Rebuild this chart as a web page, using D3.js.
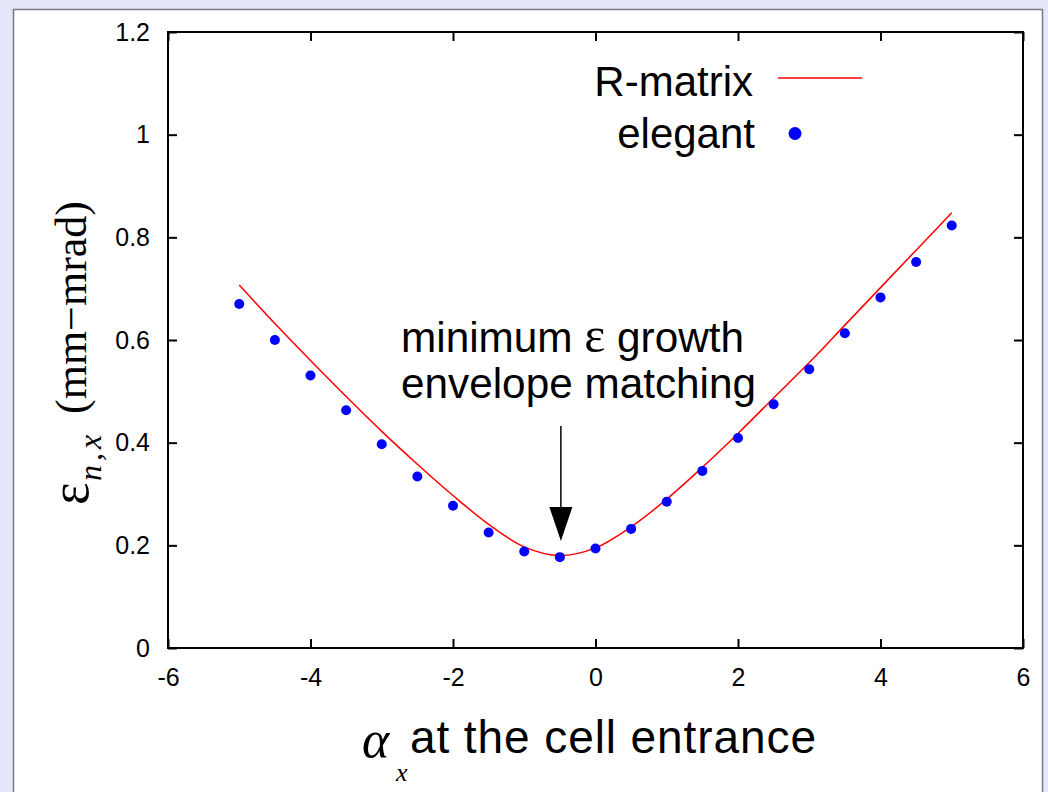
<!DOCTYPE html>
<html>
<head>
<meta charset="utf-8">
<script src="https://cdn.jsdelivr.net/npm/d3@7"></script>
<style>
  html, body { margin: 0; padding: 0; background: #e6e6fa; }
  svg { display: block; }
  .tick text { font-family: "Liberation Sans", Arial, sans-serif; font-size: 25px; fill: #000; }
  .tick line { stroke: #000; stroke-width: 2; }
</style>
</head>
<body>
<svg id="chart" width="1048" height="792"></svg>
<script>
// Twiss alpha at the cell entrance
const alphaValues = [-5, -4.5, -4, -3.5, -3, -2.5, -2, -1.5, -1, -0.5, 0, 0.5, 1, 1.5, 2, 2.5, 3, 3.5, 4, 4.5, 5];
// normalized emittance from the R-matrix calculation (mm-mrad)
const rMatrixValues = [0.707, 0.632, 0.560, 0.490, 0.422, 0.358, 0.297, 0.241, 0.197, 0.180, 0.195, 0.236, 0.290, 0.352, 0.418, 0.487, 0.556, 0.629, 0.702, 0.775, 0.848];
// normalized emittance from elegant tracking (mm-mrad)
const elegantValues = [0.670, 0.600, 0.531, 0.463, 0.397, 0.334, 0.277, 0.225, 0.188, 0.177, 0.194, 0.232, 0.285, 0.345, 0.409, 0.475, 0.543, 0.613, 0.683, 0.752, 0.823];
const xTicks = [-6, -4, -2, 0, 2, 4, 6];
const yTicks = [0, 0.2, 0.4, 0.6, 0.8, 1, 1.2];
const legendLabels = ["R-matrix", "elegant"];
const annotationAlpha = -0.5;

const svg = d3.select("#chart");
const sans = '"Liberation Sans", Arial, sans-serif';
const serif = '"Liberation Serif", "Times New Roman", serif';
const plain = d => String(d);

// page panel
svg.append("rect").attr("x", 0).attr("y", 0).attr("width", 1048).attr("height", 792).attr("fill", "#e6e6fa");
svg.append("rect").attr("x", 13.5).attr("y", 9.5).attr("width", 1029).attr("height", 800)
  .attr("fill", "#fff").attr("stroke", "#7a7a86").attr("stroke-width", 1.5);

const plotLeft = 168, plotRight = 1023, plotTop = 32, plotBottom = 648;
const x = d3.scaleLinear().domain([-6, 6]).range([plotLeft, plotRight]);
const y = d3.scaleLinear().domain([0, 1.2]).range([plotBottom, plotTop]);

// axes with inward ticks, mirrored on top and right
svg.append("g").attr("transform", `translate(0,${plotBottom})`)
  .call(d3.axisBottom(x).tickValues(xTicks).tickFormat(plain).tickSizeInner(-9).tickSizeOuter(0).tickPadding(20))
  .call(g => g.select(".domain").remove());
svg.append("g").attr("transform", `translate(${plotLeft},0)`)
  .call(d3.axisLeft(y).tickValues(yTicks).tickFormat(plain).tickSizeInner(-9).tickSizeOuter(0).tickPadding(18))
  .call(g => g.select(".domain").remove());
svg.append("g").attr("transform", `translate(0,${plotTop})`)
  .call(d3.axisTop(x).tickValues(xTicks).tickFormat("").tickSizeInner(-9).tickSizeOuter(0))
  .call(g => g.select(".domain").remove());
svg.append("g").attr("transform", `translate(${plotRight},0)`)
  .call(d3.axisRight(y).tickValues(yTicks).tickFormat("").tickSizeInner(-9).tickSizeOuter(0))
  .call(g => g.select(".domain").remove());

svg.append("rect").attr("x", plotLeft).attr("y", plotTop)
  .attr("width", plotRight - plotLeft).attr("height", plotBottom - plotTop)
  .attr("fill", "none").attr("stroke", "#000").attr("stroke-width", 2);

// R-matrix curve
const rData = alphaValues.map((a, i) => [a, rMatrixValues[i]]);
svg.append("path").datum(rData)
  .attr("fill", "none").attr("stroke", "#ff0000").attr("stroke-width", 1.5)
  .attr("d", d3.line().x(d => x(d[0])).y(d => y(d[1])).curve(d3.curveCatmullRom));

// elegant points
svg.append("g").selectAll("circle").data(alphaValues.map((a, i) => [a, elegantValues[i]]))
  .join("circle").attr("cx", d => x(d[0])).attr("cy", d => y(d[1])).attr("r", 5).attr("fill", "#0000ff");

// legend
svg.append("text").attr("x", 753).attr("y", 96).attr("text-anchor", "end")
  .attr("font-family", sans).attr("font-size", 42).text(legendLabels[0]);
svg.append("line").attr("x1", 778).attr("x2", 862).attr("y1", 78).attr("y2", 78)
  .attr("stroke", "#ff0000").attr("stroke-width", 1.5);
svg.append("text").attr("x", 755).attr("y", 148).attr("text-anchor", "end")
  .attr("font-family", sans).attr("font-size", 42).text(legendLabels[1]);
svg.append("circle").attr("cx", 795).attr("cy", 133.5).attr("r", 6.5).attr("fill", "#0000ff");

// annotation
const ann = svg.append("text").attr("font-family", sans).attr("font-size", 42.3);
const l1 = ann.append("tspan").attr("x", 401).attr("y", 352);
l1.append("tspan").text("minimum ");
l1.append("tspan").attr("font-family", serif).attr("font-size", 50).text("ε");
l1.append("tspan").text(" growth");
ann.append("tspan").attr("x", 401).attr("y", 398).text("envelope matching");

const ax = x(annotationAlpha) + 1;
svg.append("line").attr("x1", ax).attr("x2", ax).attr("y1", 426).attr("y2", 508)
  .attr("stroke", "#000").attr("stroke-width", 1.5);
svg.append("path").attr("d", `M${ax - 11.5},507 L${ax + 11.5},507 L${ax},541 Z`).attr("fill", "#000");

// y axis title
const yt = svg.append("g").attr("transform", "rotate(-90)");
yt.append("text").attr("x", -505).attr("y", 88).attr("font-family", serif).attr("font-size", 54).text("ε");
yt.append("text").attr("x", -481).attr("y", 101).attr("font-family", serif).attr("font-style", "italic")
  .attr("font-size", 32).attr("letter-spacing", 4).text("n,x");
yt.append("text").attr("x", -414).attr("y", 86).attr("font-family", serif).attr("font-size", 44)
  .attr("textLength", 213).text("(mm−mrad)");

// x axis title
svg.append("text").attr("x", 362).attr("y", 757).attr("font-family", serif).attr("font-style", "italic")
  .attr("font-size", 52).text("α");
svg.append("text").attr("x", 396).attr("y", 781).attr("font-family", serif).attr("font-style", "italic")
  .attr("font-size", 26).text("x");
svg.append("text").attr("x", 410).attr("y", 753).attr("font-family", sans).attr("font-size", 46)
  .attr("textLength", 406).text("at the cell entrance");
</script>
</body>
</html>
